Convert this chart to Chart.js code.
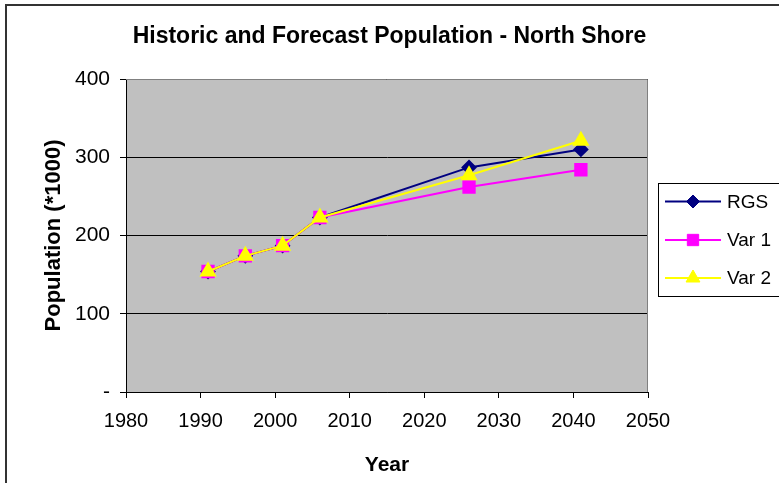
<!DOCTYPE html>
<html>
<head>
<meta charset="utf-8">
<script src="https://cdn.jsdelivr.net/npm/chart.js@4/dist/chart.umd.min.js"></script>
<style>
  html, body { margin: 0; padding: 0; background: #ffffff; }
  canvas { display: block; }
</style>
</head>
<body>
<canvas id="chart" width="779" height="483"></canvas>
<script>
// Population of the North Shore, thousands of people
const years = [1991, 1996, 2001, 2006, 2026, 2041];
const rgs  = [154, 174, 187, 223, 287, 310];
const var1 = [154, 174, 187, 223, 262, 284];
const var2 = [154, 174, 187, 223, 277, 321];
const seriesNames = ['RGS', 'Var 1', 'Var 2'];

const xTickValues = [1980, 1990, 2000, 2010, 2020, 2030, 2040, 2050];
const yTickValues = [0, 100, 200, 300, 400];
const yTickLabels = ['-', '100', '200', '300', '400'];

const chartTitle = 'Historic and Forecast Population - North Shore';
const xTitle = 'Year';
const yTitle = 'Population (*1000)';

const FONT = "'Liberation Sans', Arial, Helvetica, sans-serif";

const toPoints = vals => years.map((yr, i) => ({ x: yr, y: vals[i] }));

// Frame, grey plot area, plot border and the boxed legend on the right
const decorations = {
  id: 'decorations',
  beforeDraw(chart) {
    const { ctx, chartArea: a } = chart;
    ctx.save();
    ctx.fillStyle = '#ffffff';
    ctx.fillRect(0, 0, chart.width, chart.height);
    ctx.strokeStyle = '#333333';
    ctx.lineWidth = 2;
    ctx.strokeRect(6, 5, chart.width + 20, chart.height + 20);
    ctx.fillStyle = '#c0c0c0';
    ctx.fillRect(a.left, a.top, a.right - a.left, a.bottom - a.top);
    ctx.restore();
  },
  beforeDatasetsDraw(chart) {
    const { ctx, chartArea: a } = chart;
    ctx.save();
    ctx.strokeStyle = '#808080';
    ctx.lineWidth = 1;
    ctx.beginPath();
    ctx.moveTo(a.left, a.top + 0.5);
    ctx.lineTo(a.right - 0.5, a.top + 0.5);
    ctx.lineTo(a.right - 0.5, a.bottom);
    ctx.stroke();
    ctx.restore();
  },
  afterDraw(chart) {
    const { ctx } = chart;
    const box = { x: 658.5, y: 183.5, w: 200, h: 113 };
    ctx.save();
    ctx.fillStyle = '#ffffff';
    ctx.fillRect(box.x, box.y, box.w, box.h);
    ctx.strokeStyle = '#000000';
    ctx.lineWidth = 1;
    ctx.strokeRect(box.x, box.y, box.w, box.h);
    const rowY = [201.5, 240, 278];
    ctx.font = '19px ' + FONT;
    ctx.textBaseline = 'middle';
    ctx.textAlign = 'left';
    chart.data.datasets.forEach((ds, i) => {
      const y = rowY[i];
      ctx.strokeStyle = ds.borderColor;
      ctx.lineWidth = 2;
      ctx.beginPath();
      ctx.moveTo(665, y);
      ctx.lineTo(721, y);
      ctx.stroke();
      ctx.fillStyle = ds.pointBackgroundColor;
      ctx.strokeStyle = ds.pointBorderColor;
      ctx.lineWidth = 1;
      Chart.helpers.drawPoint(ctx, {
        pointStyle: ds.pointStyle,
        radius: ds.pointRadius,
        rotation: 0,
        borderWidth: 1
      }, 693, y);
      ctx.fillStyle = '#000000';
      ctx.fillText(ds.label, 727, y + 1);
    });
    ctx.restore();
  }
};

new Chart(document.getElementById('chart'), {
  type: 'line',
  data: {
    datasets: [
      {
        label: seriesNames[0],
        data: toPoints(rgs),
        order: 2,
        borderColor: '#000080',
        backgroundColor: '#000080',
        pointBackgroundColor: '#000080',
        pointBorderColor: '#000080',
        pointStyle: 'rectRot',
        pointRadius: 6.5,
        borderWidth: 2
      },
      {
        label: seriesNames[1],
        data: toPoints(var1),
        order: 1,
        borderColor: '#ff00ff',
        backgroundColor: '#ff00ff',
        pointBackgroundColor: '#ff00ff',
        pointBorderColor: '#ff00ff',
        pointStyle: 'rect',
        pointRadius: 8,
        borderWidth: 2
      },
      {
        label: seriesNames[2],
        data: toPoints(var2),
        order: 0,
        borderColor: '#ffff00',
        backgroundColor: '#ffff00',
        pointBackgroundColor: '#ffff00',
        pointBorderColor: '#ffff00',
        pointStyle: 'triangle',
        pointRadius: 8,
        borderWidth: 2
      }
    ]
  },
  options: {
    responsive: false,
    devicePixelRatio: 1,
    animation: false,
    events: [],
    layout: { padding: 0 },
    elements: { line: { tension: 0 } },
    plugins: {
      legend: { display: false },
      tooltip: { enabled: false },
      title: {
        display: true,
        text: chartTitle,
        color: '#000000',
        font: { family: FONT, size: 23, weight: 'bold' },
        padding: { top: 22.9, bottom: 28.5 }
      }
    },
    scales: {
      x: {
        type: 'linear',
        position: 'bottom',
        min: 1980,
        max: 2050,
        afterBuildTicks: s => { s.ticks = xTickValues.map(v => ({ value: v })); },
        afterFit: s => { s.height = 91; },
        ticks: {
          color: '#000000',
          font: { family: FONT, size: 20 },
          padding: 11.5,
          maxRotation: 0,
          autoSkip: false,
          callback: v => String(v)
        },
        grid: {
          drawOnChartArea: false,
          drawTicks: true,
          tickLength: 6,
          color: '#000000'
        },
        border: { display: true, color: '#000000', width: 1 },
        title: {
          display: true,
          text: xTitle,
          color: '#000000',
          font: { family: FONT, size: 21, weight: 'bold' },
          padding: { top: 0, bottom: 5.6 }
        }
      },
      y: {
        type: 'linear',
        position: 'left',
        min: 0,
        max: 400,
        afterBuildTicks: s => { s.ticks = yTickValues.map(v => ({ value: v })); },
        afterFit: s => { s.width = 126; },
        ticks: {
          color: '#000000',
          font: { family: FONT, size: 21 },
          padding: 10,
          callback: v => yTickLabels[yTickValues.indexOf(v)]
        },
        grid: {
          drawOnChartArea: true,
          drawTicks: true,
          tickLength: 6,
          color: '#000000'
        },
        border: { display: true, color: '#000000', width: 1 },
        title: {
          display: true,
          text: yTitle,
          color: '#000000',
          font: { family: FONT, size: 22, weight: 'bold' },
          padding: { top: 41, bottom: 0 }
        }
      },
      legendSpace: {
        type: 'linear',
        position: 'right',
        display: true,
        afterFit: s => { s.width = 131; },
        ticks: { display: false },
        grid: { display: false, drawTicks: false },
        border: { display: false },
        title: { display: false }
      }
    }
  },
  plugins: [decorations]
});
</script>
</body>
</html>
